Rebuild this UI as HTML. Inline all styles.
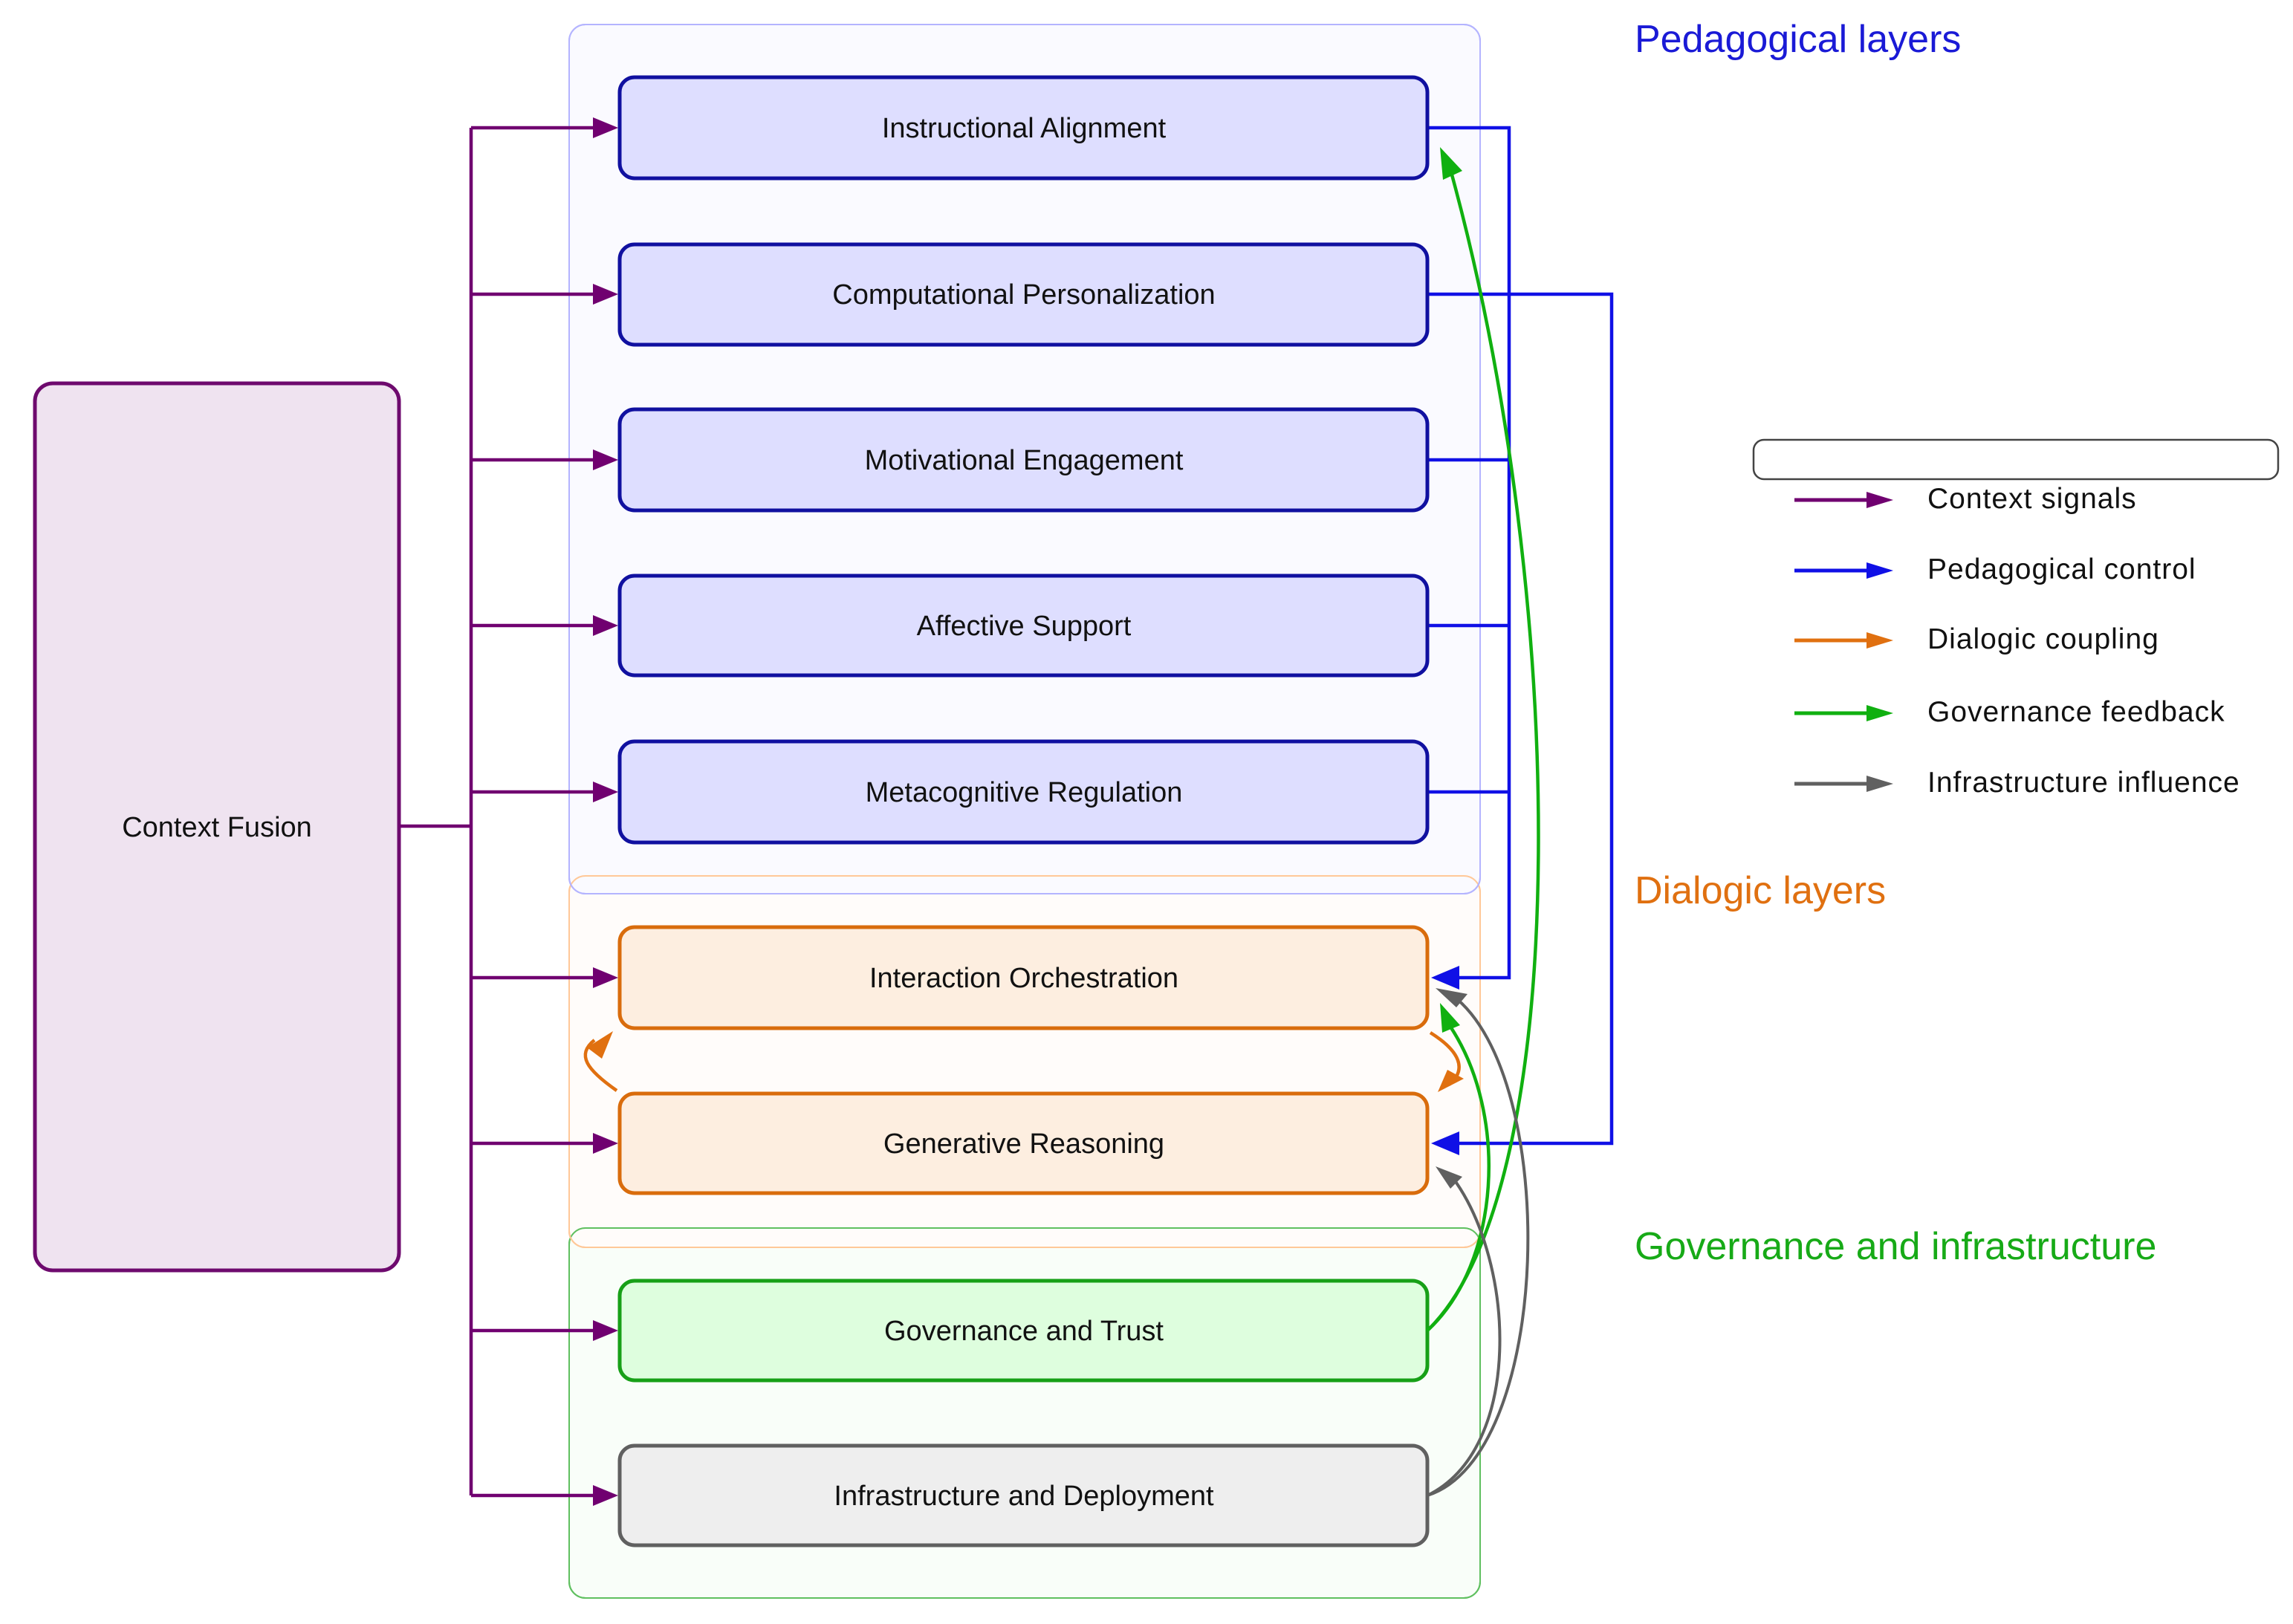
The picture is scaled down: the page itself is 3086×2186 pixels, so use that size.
<!DOCTYPE html>
<html><head><meta charset="utf-8"><style>
html,body{margin:0;padding:0;background:#fff}
svg{display:block}
text{font-family:"Liberation Sans","DejaVu Sans",sans-serif}
</style></head><body>
<svg width="3086" height="2186" viewBox="0 0 3086 2186" xmlns="http://www.w3.org/2000/svg">
<!-- containers -->
<rect x="766" y="1653" width="1226" height="498" rx="22" fill="#f9fef9" stroke="#60c060" stroke-width="2"/>
<rect x="766" y="1179" width="1226" height="500" rx="22" fill="#fffcfa" stroke="#ffc898" stroke-width="2"/>
<rect x="766" y="1653" width="1226" height="498" rx="22" fill="none" stroke="#60c060" stroke-width="2"/>
<rect x="766" y="33" width="1226" height="1170" rx="22" fill="#fafaff" stroke="#b4b4ff" stroke-width="2"/>
<rect x="766" y="1179" width="1226" height="500" rx="22" fill="none" stroke="#ffc898" stroke-width="2"/>
<rect x="766" y="33" width="1226" height="1170" rx="22" fill="none" stroke="#b4b4ff" stroke-width="2"/>

<!-- context fusion -->
<rect x="47" y="516" width="490" height="1194" rx="24" fill="#efe3f0" stroke="#6e0a6e" stroke-width="5"/>
<text x="292" y="1126" font-size="38" text-anchor="middle" fill="#111">Context Fusion</text>

<!-- purple connectors -->
<g stroke="#700070" stroke-width="4.5" fill="none">
<line x1="537" y1="1112" x2="634" y2="1112"/>
<line x1="634" y1="172" x2="634" y2="2013"/>
<line x1="634" y1="172" x2="800" y2="172"/>
<line x1="634" y1="396" x2="800" y2="396"/>
<line x1="634" y1="619" x2="800" y2="619"/>
<line x1="634" y1="842" x2="800" y2="842"/>
<line x1="634" y1="1066" x2="800" y2="1066"/>
<line x1="634" y1="1316" x2="800" y2="1316"/>
<line x1="634" y1="1539" x2="800" y2="1539"/>
<line x1="634" y1="1791" x2="800" y2="1791"/>
<line x1="634" y1="2013" x2="800" y2="2013"/>
</g>
<g fill="#700070">
<path d="M798 158 L832 172 L798 186z"/>
<path d="M798 382 L832 396 L798 410z"/>
<path d="M798 605 L832 619 L798 633z"/>
<path d="M798 828 L832 842 L798 856z"/>
<path d="M798 1052 L832 1066 L798 1080z"/>
<path d="M798 1302 L832 1316 L798 1330z"/>
<path d="M798 1525 L832 1539 L798 1553z"/>
<path d="M798 1777 L832 1791 L798 1805z"/>
<path d="M798 1999 L832 2013 L798 2027z"/>
</g>

<!-- blue connectors -->
<g stroke="#1010e6" stroke-width="4.5" fill="none">
<polyline points="1921,172 2031,172 2031,1316 1960,1316"/>
<line x1="1921" y1="619" x2="2031" y2="619"/>
<line x1="1921" y1="842" x2="2031" y2="842"/>
<line x1="1921" y1="1066" x2="2031" y2="1066"/>
<polyline points="1921,396 2169,396 2169,1539 1960,1539"/>
</g>
<g fill="#1010e6">
<path d="M1964 1300 L1926 1316 L1964 1332z"/>
<path d="M1964 1523 L1926 1539 L1964 1555z"/>
</g>

<!-- nodes -->
<g stroke-width="5">
<rect x="834" y="104" width="1087" height="136" rx="20" fill="#dedeff" stroke="#1010a0"/>
<rect x="834" y="329" width="1087" height="135" rx="20" fill="#dedeff" stroke="#1010a0"/>
<rect x="834" y="551" width="1087" height="136" rx="20" fill="#dedeff" stroke="#1010a0"/>
<rect x="834" y="775" width="1087" height="134" rx="20" fill="#dedeff" stroke="#1010a0"/>
<rect x="834" y="998" width="1087" height="136" rx="20" fill="#dedeff" stroke="#1010a0"/>
<rect x="834" y="1248" width="1087" height="136" rx="20" fill="#fdeee0" stroke="#d96c0c"/>
<rect x="834" y="1472" width="1087" height="134" rx="20" fill="#fdeee0" stroke="#d96c0c"/>
<rect x="834" y="1724" width="1087" height="134" rx="20" fill="#defede" stroke="#17a017"/>
<rect x="834" y="1946" width="1087" height="134" rx="20" fill="#eeeeee" stroke="#606060"/>
</g>
<g font-size="38" text-anchor="middle" fill="#111">
<text x="1378" y="185">Instructional Alignment</text>
<text x="1378" y="409">Computational Personalization</text>
<text x="1378" y="632">Motivational Engagement</text>
<text x="1378" y="855">Affective Support</text>
<text x="1378" y="1079">Metacognitive Regulation</text>
<text x="1378" y="1329">Interaction Orchestration</text>
<text x="1378" y="1552">Generative Reasoning</text>
<text x="1378" y="1804">Governance and Trust</text>
<text x="1378" y="2026">Infrastructure and Deployment</text>
</g>

<!-- orange loops -->
<g stroke="#e07010" stroke-width="4.5" fill="none">
<path d="M830 1468 C790 1440 775 1420 800 1400"/>
<path d="M1925 1390 C1965 1415 1975 1440 1950 1460"/>
</g>
<g fill="#e07010">
<path d="M790 1410 L825 1388 L810 1425z"/>
<path d="M1935 1470 L1970 1452 L1948 1440z"/>
</g>

<!-- green -->
<g stroke="#10b010" stroke-width="4.5" fill="none">
<path d="M1921 1791 C2120 1600 2110 800 1952 228"/>
<path d="M1921 1791 C2020 1700 2030 1500 1952 1382"/>
</g>
<g fill="#10b010">
<path d="M1938 198 L1968 230 L1942 242 z"/>
<path d="M1938 1350 L1965 1380 L1941 1390 z"/>
</g>

<!-- gray -->
<g stroke="#606060" stroke-width="4" fill="none">
<path d="M1921 2013 C2090 1960 2100 1450 1955 1340"/>
<path d="M1921 2013 C2050 1950 2040 1700 1955 1585"/>
</g>
<g fill="#606060">
<path d="M1932 1330 L1975 1338 L1960 1356 z"/>
<path d="M1932 1570 L1968 1584 L1952 1600 z"/>
</g>

<!-- section labels -->
<text x="2200" y="70" font-size="52" fill="#1a1ad6">Pedagogical layers</text>
<text x="2200" y="1216" font-size="52" fill="#e07010">Dialogic layers</text>
<text x="2200" y="1695" font-size="52" fill="#17aa17">Governance and infrastructure</text>

<!-- legend -->
<rect x="2360" y="592" width="706" height="53" rx="14" fill="#fff" stroke="#444" stroke-width="2.5"/>
<g stroke-width="5">
<line x1="2415" y1="673" x2="2520" y2="673" stroke="#700070"/>
<line x1="2415" y1="768" x2="2520" y2="768" stroke="#1010e6"/>
<line x1="2415" y1="862" x2="2520" y2="862" stroke="#e07010"/>
<line x1="2415" y1="960" x2="2520" y2="960" stroke="#10b010"/>
<line x1="2415" y1="1055" x2="2520" y2="1055" stroke="#606060"/>
</g>
<path d="M2512 662 L2548 673 L2512 684z" fill="#700070"/>
<path d="M2512 757 L2548 768 L2512 779z" fill="#1010e6"/>
<path d="M2512 851 L2548 862 L2512 873z" fill="#e07010"/>
<path d="M2512 949 L2548 960 L2512 971z" fill="#10b010"/>
<path d="M2512 1044 L2548 1055 L2512 1066z" fill="#606060"/>
<g font-size="39" fill="#111" letter-spacing="1">
<text x="2594" y="684">Context signals</text>
<text x="2594" y="779">Pedagogical control</text>
<text x="2594" y="873">Dialogic coupling</text>
<text x="2594" y="971">Governance feedback</text>
<text x="2594" y="1066">Infrastructure influence</text>
</g>
</svg>
</body></html>
